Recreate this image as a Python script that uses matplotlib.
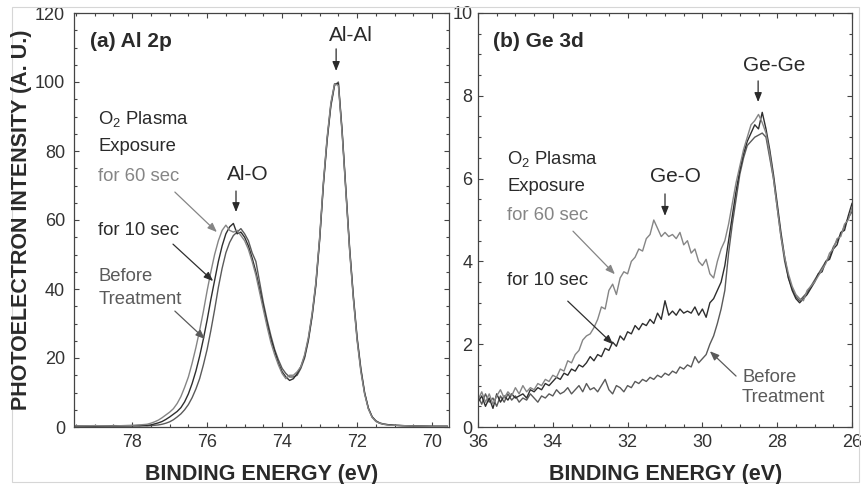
import matplotlib
matplotlib.use("Agg")
import matplotlib.pyplot as plt
from matplotlib.patches import Rectangle
from matplotlib.ticker import MultipleLocator

plt.rcParams['font.family'] = ['Liberation Sans', 'DejaVu Sans']
plt.rcParams['mathtext.fontset'] = 'custom'
plt.rcParams['mathtext.rm'] = 'Liberation Sans'
plt.rcParams['mathtext.it'] = 'Liberation Sans:italic'
plt.rcParams['mathtext.bf'] = 'Liberation Sans:bold'

# ---------------- data: (a) Al 2p ----------------
al_energy = [79.5, 79.0, 78.5, 78.0, 77.8, 77.6,
             77.5, 77.4, 77.3, 77.2, 77.1, 77.0, 76.9, 76.8, 76.7, 76.6,
             76.5, 76.4, 76.3, 76.2, 76.1, 76.0, 75.9, 75.8, 75.7, 75.6,
             75.5, 75.4, 75.3, 75.2, 75.1, 75.0, 74.9, 74.8, 74.7, 74.6,
             74.5, 74.4, 74.3, 74.2, 74.1, 74.0, 73.9, 73.8, 73.7, 73.6,
             73.5, 73.4, 73.3, 73.2, 73.1, 73.0, 72.9, 72.8, 72.7, 72.6,
             72.5, 72.4, 72.3, 72.2, 72.1, 72.0, 71.9, 71.8, 71.7, 71.6,
             71.5, 71.4, 71.3, 71.2, 71.1, 71.0, 70.8, 70.5, 70.0, 69.6]

al_before = [0.3, 0.2, 0.4, 0.3, 0.5, 0.3,
             0.4, 0.5, 0.6, 0.8, 1.1, 1.5, 2.1, 2.9, 3.8, 5.0,
             6.5, 8.5, 11.0, 14.0, 18.0, 22.5, 28.0, 34.0, 40.5, 46.0,
             50.5, 53.5, 55.5, 56.5, 57.5, 56.0, 54.0, 50.5, 48.0, 42.0,
             36.0, 31.0, 26.5, 22.5, 19.5, 17.0, 15.5, 14.5, 14.5, 15.0,
             17.0, 20.0, 25.0, 32.0, 41.0, 54.0, 70.0, 83.0, 93.0, 99.0,
             100.0, 86.0, 69.0, 52.0, 38.0, 26.0, 17.0, 10.0, 5.5, 3.0,
             1.8, 1.2, 0.9, 0.7, 0.6, 0.5, 0.4, 0.3, 0.2, 0.2]

al_10s = [0.2, 0.3, 0.2, 0.4, 0.3, 0.5,
          0.6, 0.9, 1.2, 1.6, 2.2, 2.9, 3.7, 4.5, 5.6, 7.3,
          9.6, 12.6, 16.2, 20.5, 25.5, 31.0, 37.0, 42.5, 48.0, 52.5,
          56.0, 58.0, 59.0, 56.0, 56.5, 55.0, 52.5, 49.0, 45.0, 40.0,
          35.0, 30.0, 25.5, 22.0, 18.5, 16.0, 14.5, 13.5, 14.0, 15.5,
          17.5, 20.5, 25.5, 32.5, 41.5, 54.5, 70.5, 83.5, 93.5, 99.5,
          99.5, 85.5, 68.5, 51.5, 37.5, 25.5, 16.5, 9.8, 5.4, 2.9,
          1.7, 1.1, 0.8, 0.7, 0.6, 0.5, 0.4, 0.3, 0.2, 0.2]

al_60s = [0.3, 0.4, 0.3, 0.5, 0.6, 0.8,
          1.1, 1.5, 2.0, 2.7, 3.5, 4.3, 5.3, 6.8, 8.8, 11.5,
          14.5, 18.5, 23.0, 28.0, 33.5, 39.5, 45.0, 50.0, 54.0, 57.0,
          58.5, 57.0, 56.5, 57.0, 55.5, 54.0, 51.5, 48.0, 44.0, 39.0,
          34.0, 29.0, 24.5, 21.0, 18.0, 15.5, 14.0, 15.0, 15.0, 16.0,
          17.5, 21.0, 26.0, 33.0, 42.0, 55.0, 71.0, 84.0, 94.0, 99.5,
          99.0, 85.0, 68.0, 51.0, 37.0, 25.0, 16.0, 9.5, 5.2, 2.8,
          1.6, 1.1, 0.8, 0.6, 0.5, 0.5, 0.4, 0.3, 0.2, 0.2]

# ---------------- data: (b) Ge 3d ----------------
ge_energy = [36.0, 35.9, 35.8, 35.7, 35.6, 35.5, 35.4, 35.3, 35.2, 35.1,
             35.0, 34.9, 34.8, 34.7, 34.6, 34.5, 34.4, 34.3, 34.2, 34.1,
             34.0, 33.9, 33.8, 33.7, 33.6, 33.5, 33.4, 33.3, 33.2, 33.1,
             33.0, 32.9, 32.8, 32.7, 32.6, 32.5, 32.4, 32.3, 32.2, 32.1,
             32.0, 31.9, 31.8, 31.7, 31.6, 31.5, 31.4, 31.3, 31.2, 31.1,
             31.0, 30.9, 30.8, 30.7, 30.6, 30.5, 30.4, 30.3, 30.2, 30.1,
             30.0, 29.9, 29.8, 29.7, 29.6, 29.5, 29.4, 29.3, 29.2, 29.1,
             29.0, 28.9, 28.8, 28.7, 28.6, 28.5, 28.4, 28.3, 28.2, 28.1,
             28.0, 27.9, 27.8, 27.7, 27.6, 27.5, 27.4, 27.3, 27.2, 27.1,
             27.0, 26.9, 26.8, 26.7, 26.6, 26.5, 26.4, 26.3, 26.2, 26.1,
             26.0]

ge_60s = [0.65, 0.85, 0.60, 0.80, 0.55, 0.75, 0.90, 0.70, 0.85, 0.75,
          0.95, 0.80, 1.00, 0.85, 0.95, 0.90, 1.05, 1.00, 1.15, 1.10,
          1.25, 1.20, 1.40, 1.35, 1.60, 1.55, 1.75, 1.85, 2.10, 2.20,
          2.25, 2.40, 2.60, 2.90, 2.85, 3.30, 3.45, 3.20, 3.60, 3.75,
          3.70, 4.00, 4.10, 4.30, 4.25, 4.55, 4.65, 5.00, 4.80, 4.60,
          4.70, 4.60, 4.65, 4.55, 4.70, 4.40, 4.50, 4.20, 4.30, 4.00,
          3.90, 4.05, 3.70, 3.60, 4.00, 4.30, 4.50, 4.90, 5.40, 5.90,
          6.30, 6.70, 7.00, 7.30, 7.40, 7.55, 7.35, 7.10, 6.60, 6.00,
          5.30, 4.60, 4.10, 3.70, 3.40, 3.20, 3.10, 3.05, 3.30, 3.40,
          3.50, 3.65, 3.80, 3.95, 4.20, 4.30, 4.55, 4.60, 4.90, 5.00,
          5.30]

ge_10s = [0.60, 0.75, 0.50, 0.70, 0.45, 0.80, 0.60, 0.75, 0.65, 0.80,
          0.70, 0.75, 0.80, 0.70, 0.90, 0.85, 0.95, 0.90, 1.05, 1.00,
          1.10, 1.20, 1.15, 1.30, 1.25, 1.40, 1.35, 1.50, 1.45, 1.55,
          1.70, 1.60, 1.75, 1.70, 1.90, 1.85, 2.05, 1.95, 2.20, 2.10,
          2.30, 2.25, 2.45, 2.35, 2.50, 2.45, 2.60, 2.50, 2.75, 2.60,
          3.05, 2.70, 2.80, 2.70, 2.85, 2.75, 2.80, 2.75, 2.90, 2.70,
          2.85, 2.65, 3.00, 3.10, 3.30, 3.50, 3.90, 4.50, 5.10, 5.70,
          6.20, 6.60, 6.90, 7.10, 7.30, 7.20, 7.60, 7.20, 6.70, 6.10,
          5.40, 4.70, 4.10, 3.60, 3.30, 3.10, 3.00, 3.10, 3.20, 3.35,
          3.50, 3.70, 3.75, 4.00, 4.05, 4.30, 4.40, 4.70, 4.75, 5.10,
          5.40]

ge_before = [0.75, 0.55, 0.80, 0.60, 0.70, 0.50, 0.75, 0.60, 0.80, 0.65,
             0.75, 0.60, 0.70, 0.65, 0.80, 0.70, 0.60, 0.75, 0.70, 0.80,
             0.75, 0.90, 0.80, 0.85, 0.95, 0.80, 0.90, 1.00, 0.85, 1.05,
             0.90, 0.95, 0.85, 1.00, 1.15, 0.90, 0.80, 1.00, 0.95, 0.85,
             1.00, 0.95, 1.10, 1.05, 1.15, 1.10, 1.20, 1.15, 1.25, 1.20,
             1.30, 1.25, 1.35, 1.30, 1.45, 1.40, 1.50, 1.45, 1.70, 1.55,
             1.65, 1.75, 2.00, 2.20, 2.50, 2.85, 3.30, 4.20, 4.90, 5.50,
             6.10, 6.50, 6.80, 6.90, 7.00, 7.05, 7.10, 7.00, 6.50, 6.00,
             5.30, 4.60, 4.00, 3.60, 3.35, 3.15, 3.05, 3.15, 3.25, 3.40,
             3.55, 3.70, 3.85, 4.00, 4.10, 4.35, 4.50, 4.65, 4.85, 5.05,
             5.20]

# ---------------- styling ----------------
W, H = 861, 484
fig = plt.figure(figsize=(W / 100, H / 100), dpi=100)

C60 = '#858585'
C10 = '#2e2e2e'
CBF = '#5a5a5a'
TXT = '#2a2a2a'
SP = '#444444'

axL = fig.add_axes([74 / W, 57 / H, 375 / W, 414 / H])
axR = fig.add_axes([478 / W, 57 / H, 374 / W, 414 / H])

for ax in (axL, axR):
    for s in ax.spines.values():
        s.set_color(SP)
        s.set_linewidth(0.9)
    ax.tick_params(which='both', direction='in', top=True, right=True,
                   color=SP, width=0.8, labelsize=13, labelcolor='#333333')
    ax.tick_params(which='major', length=3.8)
    ax.tick_params(which='minor', length=2.2)
    ax.tick_params(axis='x', pad=5)

axL.tick_params(axis='y', pad=6.5)
axR.tick_params(axis='y', pad=4)

lw = 1.0
axL.plot(al_energy, al_before, color=CBF, lw=lw)
axL.plot(al_energy, al_10s, color=C10, lw=lw)
axL.plot(al_energy, al_60s, color=C60, lw=lw)
axL.set_xlim(79.55, 69.55)
axL.set_ylim(0, 120)
axL.xaxis.set_major_locator(MultipleLocator(2))
axL.xaxis.set_minor_locator(MultipleLocator(0.5))
axL.yaxis.set_major_locator(MultipleLocator(20))
axL.yaxis.set_minor_locator(MultipleLocator(5))

axR.plot(ge_energy, ge_before, color=CBF, lw=lw)
axR.plot(ge_energy, ge_10s, color=C10, lw=lw)
axR.plot(ge_energy, ge_60s, color=C60, lw=lw)
axR.set_xlim(36, 26)
axR.set_ylim(0, 10)
axR.xaxis.set_major_locator(MultipleLocator(2))
axR.xaxis.set_minor_locator(MultipleLocator(0.5))
axR.yaxis.set_major_locator(MultipleLocator(2))
axR.yaxis.set_minor_locator(MultipleLocator(0.5))

# ---------------- annotations ----------------
def arrow(ax, start, end, color):
    ax.annotate('', xy=end, xytext=start,
                arrowprops=dict(arrowstyle='-|>,head_length=0.55,head_width=0.22',
                                color=color, lw=0.9, shrinkA=0, shrinkB=0))

fs = 13.3
# panel (a)
axL.text(79.13, 111.6, '(a) Al 2p', fontsize=15, fontweight='bold', color=TXT,
         ha='left', va='center')
axL.text(78.9, 89.3, 'O$_2$ Plasma', fontsize=fs, color=TXT, ha='left', va='center')
axL.text(78.9, 81.3, 'Exposure', fontsize=fs, color=TXT, ha='left', va='center')
axL.text(78.9, 72.5, 'for 60 sec', fontsize=fs, color=C60, ha='left', va='center')
axL.text(78.9, 57.1, 'for 10 sec', fontsize=fs, color=TXT, ha='left', va='center')
axL.text(78.9, 43.5, 'Before', fontsize=fs, color=CBF, ha='left', va='center')
axL.text(78.9, 37.1, 'Treatment', fontsize=fs, color=CBF, ha='left', va='center')
arrow(axL, (76.86, 68.1), (75.74, 56.5), C60)
arrow(axL, (76.91, 53.0), (75.84, 42.3), C10)
arrow(axL, (76.86, 33.6), (76.06, 25.5), CBF)
axL.text(74.91, 73.3, 'Al-O', fontsize=15, color=TXT, ha='center', va='center')
arrow(axL, (75.23, 68.4), (75.23, 62.3), TXT)
axL.text(72.16, 113.6, 'Al-Al', fontsize=15, color=TXT, ha='center', va='center')
arrow(axL, (72.56, 109.6), (72.56, 103.2), TXT)

# panel (b)
axR.text(35.6, 9.3, '(b) Ge 3d', fontsize=15, fontweight='bold', color=TXT,
         ha='left', va='center')
axR.text(35.22, 6.47, 'O$_2$ Plasma', fontsize=fs, color=TXT, ha='left', va='center')
axR.text(35.22, 5.82, 'Exposure', fontsize=fs, color=TXT, ha='left', va='center')
axR.text(35.22, 5.12, 'for 60 sec', fontsize=fs, color=C60, ha='left', va='center')
axR.text(35.22, 3.53, 'for 10 sec', fontsize=fs, color=TXT, ha='left', va='center')
axR.text(28.94, 1.2, 'Before', fontsize=fs, color=CBF, ha='left', va='center')
axR.text(28.94, 0.72, 'Treatment', fontsize=fs, color=CBF, ha='left', va='center')
arrow(axR, (33.46, 4.73), (32.34, 3.69), C60)
arrow(axR, (33.60, 3.04), (32.39, 2.00), C10)
arrow(axR, (29.10, 1.23), (29.80, 1.83), CBF)
axR.text(30.73, 6.06, 'Ge-O', fontsize=15, color=TXT, ha='center', va='center')
arrow(axR, (31.0, 5.63), (31.0, 5.10), TXT)
axR.text(28.09, 8.72, 'Ge-Ge', fontsize=15, color=TXT, ha='center', va='center')
arrow(axR, (28.51, 8.36), (28.51, 7.85), TXT)

# axis labels
fig.text(22 / W, 1 - 220 / H, 'PHOTOELECTRON INTENSITY (A. U.)', rotation=90,
         fontsize=15.5, fontweight='bold', color=TXT, ha='center', va='center')
fig.text(261.5 / W, 1 - 480 / H, 'BINDING ENERGY (eV)', fontsize=15.5,
         fontweight='bold', color=TXT, ha='center', va='baseline')
fig.text(665.5 / W, 1 - 480 / H, 'BINDING ENERGY (eV)', fontsize=15.5,
         fontweight='bold', color=TXT, ha='center', va='baseline')

# light frame around the figure
fig.patches.append(Rectangle((12 / W, 1 - 482 / H), (859 - 12) / W, (482 - 7) / H,
                             transform=fig.transFigure, fill=False,
                             edgecolor='#d6d6d6', lw=0.8))

fig.savefig('out.png', dpi=100)
